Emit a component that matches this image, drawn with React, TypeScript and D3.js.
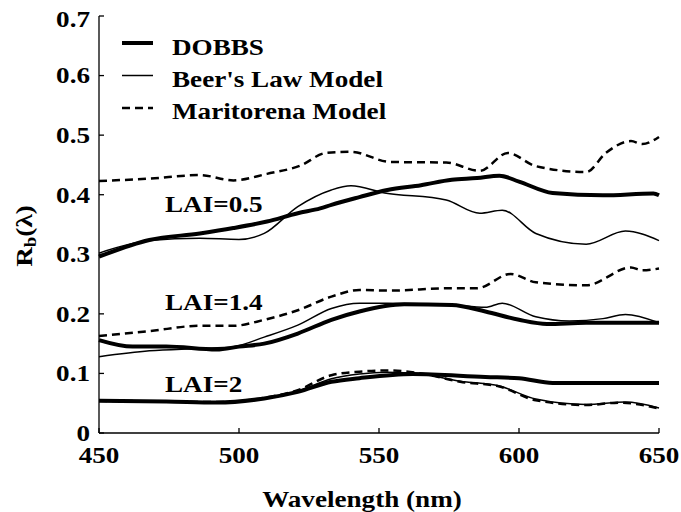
import React from "react";
import * as d3 from "d3";

// Wavelength (nm) sample positions and reflectance values
const dobbs05Wl = [450, 468, 486, 498, 510, 521, 529, 533, 543, 553, 565, 576, 585, 593, 600, 612, 630, 648, 650];
const dobbs05 = [0.296, 0.324, 0.335, 0.344, 0.355, 0.369, 0.377, 0.383, 0.396, 0.408, 0.416, 0.425, 0.428, 0.432, 0.422, 0.403, 0.399, 0.402, 0.399];
const beer05Wl = [450, 468, 486, 500, 509, 521, 533, 540, 552, 574, 586, 594, 606, 624, 638, 650];
const beer05 = [0.302, 0.323, 0.327, 0.325, 0.335, 0.38, 0.408, 0.415, 0.403, 0.391, 0.369, 0.374, 0.335, 0.317, 0.339, 0.323];
const mar05Wl = [450, 468, 486, 498, 510, 522, 531, 540, 554, 574, 586, 596, 606, 624, 631, 640, 644, 650];
const mar05 = [0.423, 0.427, 0.433, 0.424, 0.435, 0.449, 0.47, 0.472, 0.455, 0.454, 0.44, 0.47, 0.448, 0.438, 0.47, 0.49, 0.485, 0.497];

const dobbs14Wl = [450, 462, 474, 492, 500, 509, 521, 533, 543, 559, 576, 588, 600, 610, 624, 650];
const dobbs14 = [0.156, 0.145, 0.145, 0.14, 0.145, 0.15, 0.167, 0.19, 0.204, 0.216, 0.215, 0.204, 0.19, 0.183, 0.185, 0.185];
const beer14Wl = [450, 468, 486, 498, 509, 521, 533, 543, 553, 576, 588, 594, 606, 618, 630, 638, 650];
const beer14 = [0.128, 0.138, 0.142, 0.145, 0.161, 0.181, 0.209, 0.218, 0.218, 0.215, 0.211, 0.218, 0.195, 0.188, 0.192, 0.199, 0.185];
const mar14Wl = [450, 468, 486, 498, 509, 521, 533, 543, 553, 576, 585, 597, 606, 624, 640, 644, 650];
const mar14 = [0.163, 0.171, 0.18, 0.18, 0.19, 0.206, 0.229, 0.24, 0.239, 0.243, 0.243, 0.267, 0.253, 0.248, 0.278, 0.273, 0.276];

const dobbs2Wl = [450, 474, 492, 509, 521, 533, 543, 562, 588, 600, 612, 650];
const dobbs2 = [0.054, 0.053, 0.051, 0.058, 0.069, 0.086, 0.092, 0.099, 0.094, 0.092, 0.084, 0.084];
const beer2Wl = [450, 474, 492, 509, 521, 533, 543, 553, 565, 579, 593, 606, 624, 638, 650];
const beer2 = [0.054, 0.053, 0.052, 0.058, 0.07, 0.091, 0.099, 0.102, 0.099, 0.087, 0.079, 0.057, 0.048, 0.052, 0.042];
const mar2Wl = [450, 474, 492, 509, 521, 533, 543, 553, 565, 579, 593, 606, 624, 636, 650];
const mar2 = [0.054, 0.053, 0.052, 0.059, 0.072, 0.097, 0.103, 0.105, 0.1, 0.086, 0.078, 0.055, 0.047, 0.051, 0.041];

const xTicks = [450, 500, 550, 600, 650];
const yTicks = [0, 0.1, 0.2, 0.3, 0.4, 0.5, 0.6, 0.7];
const legendLabels = ["DOBBS", "Beer's Law Model", "Maritorena Model"];
const laiLabels = ["LAI=0.5", "LAI=1.4", "LAI=2"];
const laiValues = [0.371, 0.206, 0.069];

type Style = { w: number; dash?: string };
const styles: Style[] = [{ w: 4 }, { w: 1.5 }, { w: 2.5, dash: "8,5" }];

const series = [
  { wl: dobbs05Wl, v: dobbs05, s: 0 },
  { wl: beer05Wl, v: beer05, s: 1 },
  { wl: mar05Wl, v: mar05, s: 2 },
  { wl: dobbs14Wl, v: dobbs14, s: 0 },
  { wl: beer14Wl, v: beer14, s: 1 },
  { wl: mar14Wl, v: mar14, s: 2 },
  { wl: beer2Wl, v: beer2, s: 1 },
  { wl: mar2Wl, v: mar2, s: 2 },
  { wl: dobbs2Wl, v: dobbs2, s: 0 },
];

const SX = 1.18;

function T(props: { x: number; y: number; anchor?: string; size: number; rotate?: number; children: React.ReactNode }) {
  const { x, y, anchor, size, rotate, children } = props;
  return (
    <text
      transform={`translate(${x},${y})${rotate ? ` rotate(${rotate})` : ""} scale(${SX},1)`}
      textAnchor={anchor || "start"}
      fontSize={size}
    >
      {children}
    </text>
  );
}

export default function App() {
  const W = 681, H = 512;
  const x = d3.scaleLinear().domain([450, 650]).range([99, 659]);
  const y = d3.scaleLinear().domain([0, 0.7]).range([433, 16]);
  const line = d3
    .line<[number, number]>()
    .x((d) => x(d[0]))
    .y((d) => y(d[1]))
    .curve(d3.curveMonotoneX);
  const font = "Liberation Serif, DejaVu Serif, Times New Roman, serif";
  return (
    <svg width={W} height={H} style={{ position: "absolute", left: 0, top: 0, fontFamily: font, fontWeight: 700 }}>
      <rect width={W} height={H} fill="#fff" />
      {/* axes */}
      <line x1={x(450)} x2={x(650)} y1={y(0)} y2={y(0)} stroke="#000" strokeWidth={1.3} />
      <line x1={x(450)} x2={x(450)} y1={y(0)} y2={y(0.7)} stroke="#000" strokeWidth={1.3} />
      {xTicks.map((t) => (
        <g key={"x" + t}>
          <line x1={x(t)} x2={x(t)} y1={y(0)} y2={y(0) - 5} stroke="#000" strokeWidth={1.3} />
          <T x={x(t)} y={463} anchor="middle" size={23}>
            {t}
          </T>
        </g>
      ))}
      {yTicks.map((t) => (
        <g key={"y" + t}>
          <line x1={x(450)} x2={x(450) + 5} y1={y(t)} y2={y(t)} stroke="#000" strokeWidth={1.3} />
          <T x={90} y={Math.max(y(t) + 7.8, 26.7)} anchor="end" size={23}>
            {t === 0 ? "0" : d3.format(".1f")(t)}
          </T>
        </g>
      ))}
      {/* series */}
      {series.map((sr, i) => (
        <path
          key={i}
          d={line(sr.wl.map((w, j) => [w, sr.v[j]] as [number, number])) || ""}
          fill="none"
          stroke="#000"
          strokeWidth={styles[sr.s].w}
          strokeDasharray={styles[sr.s].dash}
        />
      ))}
      {/* legend */}
      {legendLabels.map((lbl, i) => (
        <g key={lbl}>
          <line x1={122} x2={153} y1={43 + i * 32.5} y2={43 + i * 32.5} stroke="#000" strokeWidth={styles[i].w} strokeDasharray={styles[i].dash} />
          <T x={172} y={55 + i * 32} size={23}>
            {lbl}
          </T>
        </g>
      ))}
      {/* LAI labels */}
      {laiLabels.map((lbl, i) => (
        <T key={lbl} x={165} y={y(laiValues[i])} size={23}>
          {lbl}
        </T>
      ))}
      <T x={362} y={507} anchor="middle" size={23}>
        Wavelength (nm)
      </T>
      <T x={32} y={236} anchor="middle" size={23} rotate={-90}>
        R<tspan fontSize={16} dy={4}>b</tspan>
        <tspan dy={-4}>(λ)</tspan>
      </T>
    </svg>
  );
}
